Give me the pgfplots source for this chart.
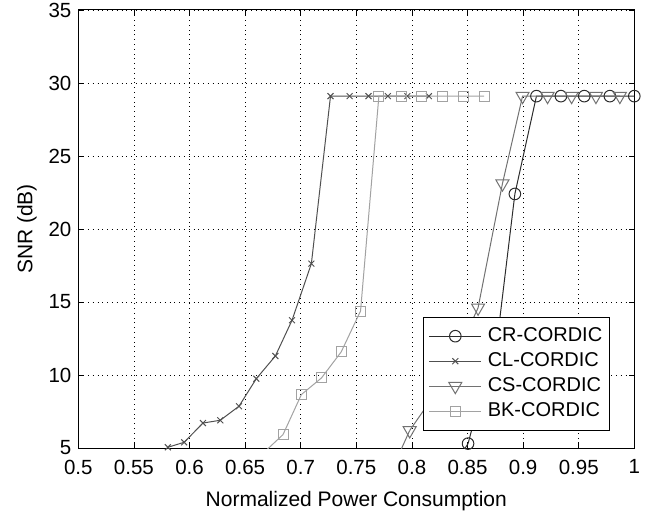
\documentclass[border=0pt]{standalone}
\usepackage{fontspec}
\setmainfont{Liberation Sans}
\usepackage{pgfplots}
\pgfplotsset{compat=1.18}
\definecolor{cCR}{HTML}{2C2C2C}
\definecolor{cCL}{HTML}{505050}
\definecolor{cCS}{HTML}{727272}
\definecolor{cBK}{HTML}{A2A2A2}
\begin{document}
\begin{tikzpicture}
\begin{axis}[
  scale only axis, width=556pt, height=438pt,
  xmin=0.5, xmax=1, ymin=5, ymax=35,
  xtick={0.5,0.55,0.6,0.65,0.7,0.75,0.8,0.85,0.9,0.95,1},
  xticklabels={0.5,0.55,0.6,0.65,0.7,0.75,0.8,0.85,0.9,0.95,1},
  ytick={5,10,15,20,25,30,35},
  yticklabels={5,10,15,20,25,30,35},
  tick align=inside, major tick length=5pt,
  tick style={black, line width=0.8pt},
  axis line style={black, line width=1pt},
  grid=major,
  major grid style={black, line width=0.6pt, dash pattern=on 0.8pt off 4pt},
  xticklabel style={font=\fontsize{20.5}{24}\selectfont, inner sep=1pt, yshift=-10.5pt},
  yticklabel style={font=\fontsize{20.5}{24}\selectfont, inner sep=1pt, xshift=-5.7pt},
  /pgf/number format/assume math mode=true,
  xlabel={Normalized Power Consumption},
  ylabel={SNR (dB)},
  xlabel style={font=\fontsize{21}{25}\selectfont, at={(axis description cs:0.5,-0.1333)}, anchor=base},
  ylabel style={font=\fontsize{21}{25}\selectfont, at={(axis description cs:-0.0826,0.5)}, anchor=base},
  legend image code/.code={\draw[mark repeat=2,mark phase=2,#1] plot coordinates {(0pt,0pt) (26pt,0pt) (52pt,0pt)};},
  legend cell align=left,
  legend style={at={(axis description cs:0.6205,0.2998)}, anchor=north west,
    draw=black, line width=1pt, fill=white,
    font=\fontsize{20}{24}\selectfont,
    inner xsep=5pt, inner ysep=7.5pt, row sep=2pt,
    nodes={text height=15pt, text depth=4pt, inner sep=2pt}},
]
% CR-CORDIC
\addplot[cCR, line width=1pt, mark=o, mark size=5.8pt, mark options={solid, line width=1pt}]
coordinates {(0.8505,5.3) (0.878,13.2) (0.8926,22.4) (0.912,29.1) (0.934,29.1) (0.955,29.1) (0.978,29.1) (1.0,29.1)};
\addlegendentry{\hspace{4pt}CR-CORDIC\hspace{9pt}}
% CL-CORDIC
\addplot[cCL, line width=1pt, mark=x, mark size=4.2pt, mark options={solid, line width=1pt}]
coordinates {(0.5805,5.05) (0.5952,5.39) (0.6121,6.71) (0.6277,6.9) (0.6445,7.86) (0.6601,9.75) (0.6772,11.3) (0.6922,13.75) (0.7096,17.63) (0.7268,29.1) (0.744,29.1) (0.761,29.1) (0.7784,29.1) (0.7959,29.1) (0.8153,29.1)};
\addlegendentry{\hspace{4pt}CL-CORDIC}
% CS-CORDIC
\addplot[cCS, line width=1pt, mark=triangle, mark size=7.5pt, mark options={solid, line width=1pt, rotate=180}]
coordinates {(0.798,6.2) (0.83,9.7) (0.8595,14.6) (0.8814,23.1) (0.8995,29.1) (0.922,29.1) (0.9436,29.1) (0.9655,29.1) (0.987,29.1)};
\addlegendentry{\hspace{4pt}CS-CORDIC}
% BK-CORDIC
\addplot[cBK, line width=1pt, mark=square, mark size=5pt, mark options={solid, line width=1pt}]
coordinates {(0.6841,5.92) (0.7006,8.66) (0.7187,9.8) (0.7364,11.58) (0.7538,14.38) (0.7703,29.1) (0.7906,29.1) (0.809,29.1) (0.8276,29.1) (0.846,29.1) (0.865,29.1)};
\addlegendentry{\hspace{4pt}BK-CORDIC}
% segments continuing below the axis (clipped)
\addplot[cCS, line width=1pt, no marks, forget plot] coordinates {(0.785,4.0) (0.798,6.2)};
\addplot[cBK, line width=1pt, no marks, forget plot] coordinates {(0.66,4.2) (0.6841,5.92)};
\addplot[cCR, line width=1pt, no marks, forget plot] coordinates {(0.842,4.3) (0.8505,5.3)};
\end{axis}
\pgfresetboundingbox
\path[use as bounding box] ([xshift=-78.3pt,yshift=-66pt]current axis.south west) rectangle ([xshift=17.7pt,yshift=10pt]current axis.north east);
\end{tikzpicture}
\end{document}
